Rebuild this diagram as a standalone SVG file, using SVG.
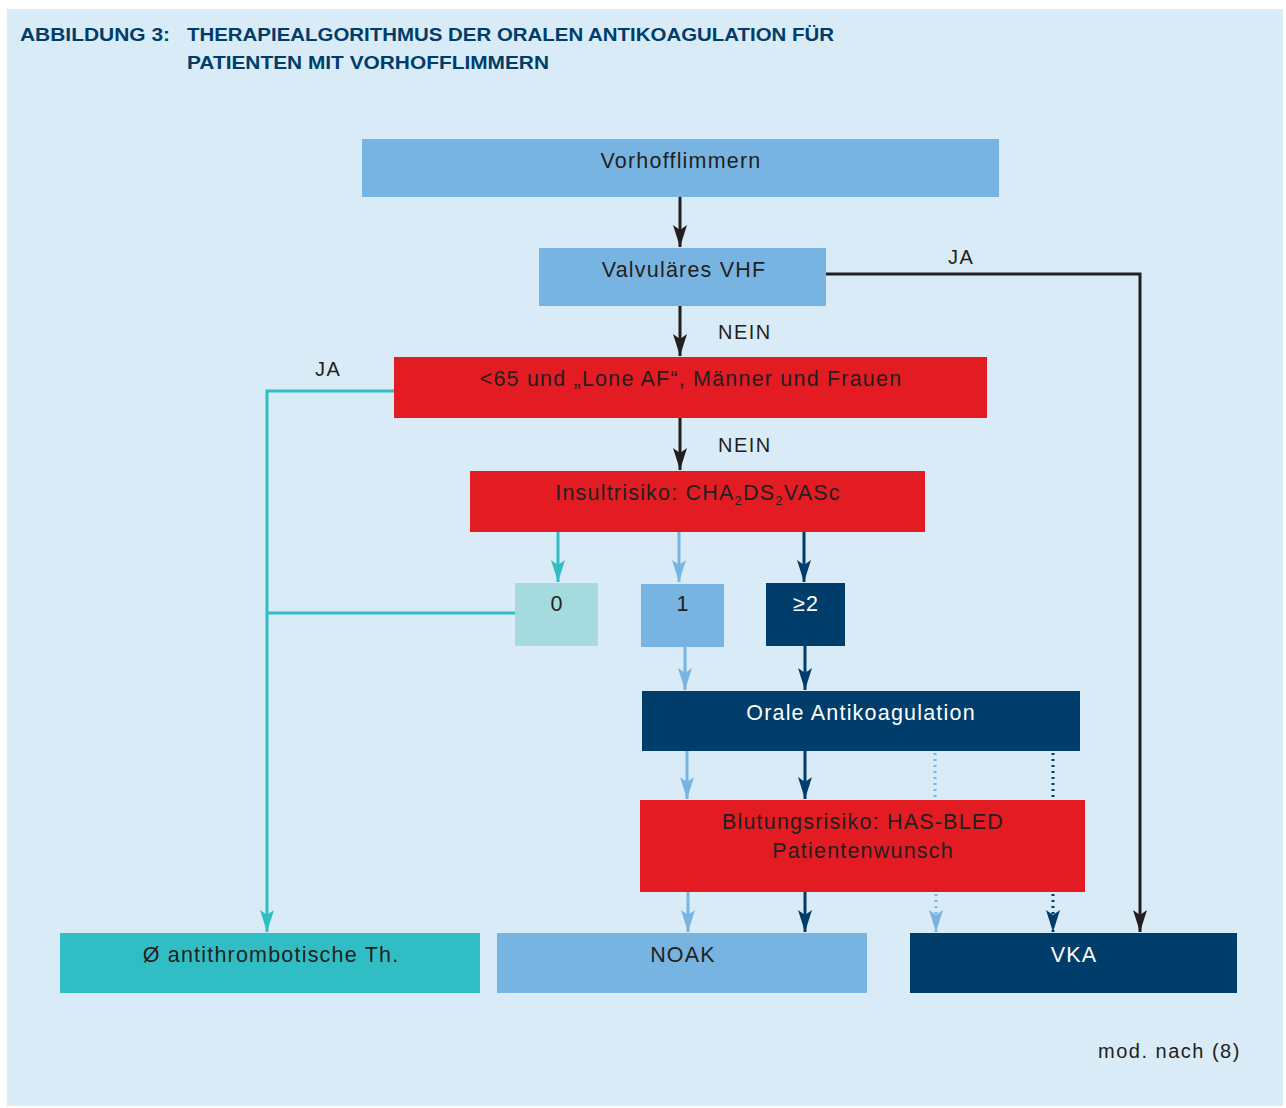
<svg xmlns="http://www.w3.org/2000/svg" width="1286" height="1108" viewBox="0 0 1286 1108">
<defs>
<style>
text{font-family:"Liberation Sans","Noto Sans",sans-serif;}
.t{font-size:21.5px;fill:#231f20;text-anchor:middle;letter-spacing:1.2px;}
.w{font-size:21.5px;fill:#ffffff;text-anchor:middle;letter-spacing:1.2px;}
.lab{font-size:20px;fill:#231f20;letter-spacing:1.5px;}
.title{font-size:19px;font-weight:bold;fill:#003d6b;}
.k{stroke:#231f20;stroke-width:3;fill:none;}
.tl{stroke:#30bec4;stroke-width:3;fill:none;}
.lb{stroke:#78b4e2;stroke-width:3;fill:none;}
.db{stroke:#003d6b;stroke-width:3;fill:none;}
.dot{stroke-dasharray:2 4;}
</style>
<marker id="ak" markerUnits="userSpaceOnUse" markerWidth="24" markerHeight="14" refX="22" refY="7" orient="auto"><path d="M0,0 L22,7 L0,14 L5,7 z" fill="#231f20"/></marker>
<marker id="at" markerUnits="userSpaceOnUse" markerWidth="24" markerHeight="14" refX="22" refY="7" orient="auto"><path d="M0,0 L22,7 L0,14 L5,7 z" fill="#30bec4"/></marker>
<marker id="al" markerUnits="userSpaceOnUse" markerWidth="24" markerHeight="14" refX="22" refY="7" orient="auto"><path d="M0,0 L22,7 L0,14 L5,7 z" fill="#78b4e2"/></marker>
<marker id="ad" markerUnits="userSpaceOnUse" markerWidth="24" markerHeight="14" refX="22" refY="7" orient="auto"><path d="M0,0 L22,7 L0,14 L5,7 z" fill="#003d6b"/></marker>
</defs>
<rect x="0" y="0" width="1286" height="1108" fill="#ffffff"/>
<rect x="7" y="9" width="1276" height="1097" fill="#d8ebf6"/>
<text class="title" x="20" y="41" textLength="150" lengthAdjust="spacingAndGlyphs">ABBILDUNG 3:</text>
<text class="title" x="187" y="41" textLength="647" lengthAdjust="spacingAndGlyphs">THERAPIEALGORITHMUS DER ORALEN ANTIKOAGULATION FÜR</text>
<text class="title" x="187" y="69" textLength="362" lengthAdjust="spacingAndGlyphs">PATIENTEN MIT VORHOFFLIMMERN</text>

<g id="connectors">
<line class="k" x1="680" y1="197" x2="680" y2="247" marker-end="url(#ak)"/>
<line class="k" x1="680" y1="306" x2="680" y2="356" marker-end="url(#ak)"/>
<line class="k" x1="680" y1="418" x2="680" y2="470" marker-end="url(#ak)"/>
<polyline class="k" points="826,274 1140,274 1140,932" marker-end="url(#ak)"/>
<polyline class="tl" points="394,391 267,391 267,932" marker-end="url(#at)"/>
<line class="tl" x1="515" y1="613" x2="267" y2="613"/>
<line class="tl" x1="558" y1="532" x2="558" y2="582" marker-end="url(#at)"/>
<line class="lb" x1="679" y1="532" x2="679" y2="582" marker-end="url(#al)"/>
<line class="db" x1="804" y1="532" x2="804" y2="582" marker-end="url(#ad)"/>
<line class="lb" x1="685" y1="647" x2="685" y2="690" marker-end="url(#al)"/>
<line class="db" x1="805" y1="646" x2="805" y2="690" marker-end="url(#ad)"/>
<line class="lb" x1="687" y1="751" x2="687" y2="799" marker-end="url(#al)"/>
<line class="db" x1="805" y1="751" x2="805" y2="799" marker-end="url(#ad)"/>
<line class="lb dot" x1="935" y1="753" x2="935" y2="799"/>
<line class="db dot" x1="1053" y1="753" x2="1053" y2="799"/>
<line class="lb" x1="688" y1="892" x2="688" y2="932" marker-end="url(#al)"/>
<line class="db" x1="805" y1="892" x2="805" y2="932" marker-end="url(#ad)"/>
<line class="lb dot" x1="936" y1="894" x2="936" y2="932" marker-end="url(#al)"/>
<line class="db dot" x1="1053" y1="894" x2="1053" y2="932" marker-end="url(#ad)"/>
<text class="lab" x="948" y="264">JA</text>
<text class="lab" x="315" y="376">JA</text>
<text class="lab" x="718" y="339">NEIN</text>
<text class="lab" x="718" y="452">NEIN</text>
</g>

<g id="n-vorhofflimmern"><rect x="362" y="139" width="637" height="58" fill="#78b4e2"/><text class="t" x="681" y="168">Vorhofflimmern</text></g>
<g id="n-valvulaeres"><rect x="539" y="248" width="287" height="58" fill="#78b4e2"/><text class="t" x="684" y="277">Valvuläres VHF</text></g>
<g id="n-lone"><rect x="394" y="357" width="593" height="61" fill="#e31b23"/><text class="t" x="691" y="386">&lt;65 und „Lone AF“, Männer und Frauen</text></g>
<g id="n-insult"><rect x="470" y="471" width="455" height="61" fill="#e31b23"/><text class="t" x="698" y="500">Insultrisiko: CHA<tspan font-size="13" dy="5">2</tspan><tspan dy="-5">DS</tspan><tspan font-size="13" dy="5">2</tspan><tspan dy="-5">VASc</tspan></text></g>
<g id="n-0"><rect x="515" y="583" width="83" height="63" fill="#a5dbdf"/><text class="t" x="557" y="611">0</text></g>
<g id="n-1"><rect x="641" y="584" width="83" height="63" fill="#78b4e2"/><text class="t" x="683" y="611">1</text></g>
<g id="n-2"><rect x="766" y="583" width="79" height="63" fill="#003d6b"/><text class="w" x="806" y="611">≥2</text></g>
<g id="n-orale"><rect x="642" y="691" width="438" height="60" fill="#003d6b"/><text class="w" x="861" y="720">Orale Antikoagulation</text></g>
<g id="n-blutung"><rect x="640" y="800" width="445" height="92" fill="#e31b23"/><text class="t" x="863" y="829">Blutungsrisiko: HAS-BLED</text><text class="t" x="863" y="858">Patientenwunsch</text></g>
<g id="n-keine"><rect x="60" y="933" width="420" height="60" fill="#30bec4"/><text class="t" x="271" y="962">Ø antithrombotische Th.</text></g>
<g id="n-noak"><rect x="497" y="933" width="370" height="60" fill="#78b4e2"/><text class="t" x="683" y="962">NOAK</text></g>
<g id="n-vka"><rect x="910" y="933" width="327" height="60" fill="#003d6b"/><text class="w" x="1074" y="962">VKA</text></g>
<text class="lab" x="1098" y="1058">mod. nach (8)</text>
</svg>
